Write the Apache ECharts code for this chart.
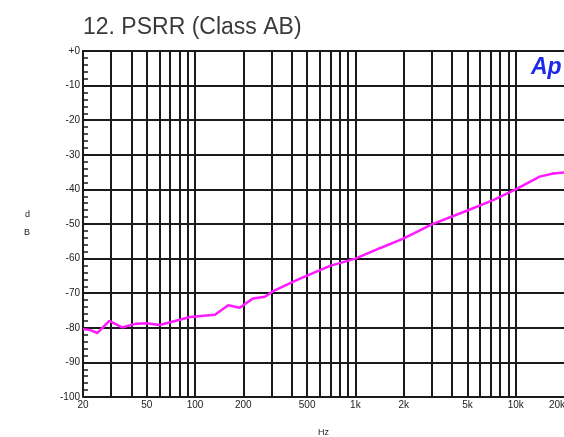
<!DOCTYPE html>
<html>
<head>
<meta charset="utf-8">
<script src="https://cdn.jsdelivr.net/npm/echarts@6/dist/echarts.min.js"></script>
<style>
  html, body { margin: 0; padding: 0; background: #fff; }
  #main { width: 564px; height: 437px; }
</style>
</head>
<body>
<div id="main"></div>
<script>
// PSRR curve
var freq = [20, 22, 24.6, 29.2, 35, 43, 50, 60, 71, 93, 133, 161, 190, 230, 273, 307, 430, 694, 1000, 1420, 1990, 3000, 5180, 7230, 10000, 14100, 17100, 20000];
var psrr = [-80.4, -80.6, -81.5, -78, -79.9, -78.8, -78.7, -79.2, -78.3, -76.9, -76.2, -73.5, -74.2, -71.5, -71.0, -69.4, -66.2, -62.1, -60.0, -57.0, -54.2, -50.1, -45.8, -43.1, -40.0, -36.3, -35.4, -35.1];

// vertical grid lines and the x labels
var gridFreqs = [30, 40, 50, 60, 70, 80, 90, 100, 200, 300, 400, 500, 600, 700, 800, 900, 1000,
  2000, 3000, 4000, 5000, 6000, 7000, 8000, 9000, 10000];
var labelFreqs = [20, 50, 100, 200, 500, 1000, 2000, 5000, 10000, 20000];
var labelTexts = ['20', '50', '100', '200', '500', '1k', '2k', '5k', '10k', '20k'];

var myChart = echarts.init(document.getElementById('main'), null, { renderer: 'canvas' });

var lineCol = '#1a1a1a';
var fontFam = 'Liberation Sans, Arial, sans-serif';
var marks = [];
gridFreqs.forEach(function (f) {
  marks.push({ xAxis: f, lineStyle: { color: lineCol, width: 2, type: 'solid' }, label: { show: false } });
});
labelFreqs.forEach(function (f, i) {
  var last = i === labelFreqs.length - 1;
  marks.push({
    xAxis: f,
    lineStyle: { color: 'rgba(0,0,0,0)', width: 0 },
    label: {
      show: true, position: 'start', formatter: labelTexts[i], distance: 3,
      padding: last ? [0, 14, 0, 0] : 0,
      color: '#222', fontSize: 10, fontFamily: fontFam
    }
  });
});

var option = {
  animation: false,
  title: {
    text: '12. PSRR (Class AB)',
    left: 78, top: 11,
    textStyle: { fontFamily: fontFam, fontSize: 23, fontWeight: 'normal', color: '#3a3a3a' }
  },
  grid: { left: 83, top: 51, right: 0, bottom: 40, outerBoundsMode: 'none' },
  xAxis: {
    type: 'log',
    logBase: 10,
    min: 20,
    max: 20000,
    name: 'Hz',
    nameLocation: 'middle',
    nameGap: 31,
    nameTextStyle: { fontSize: 9, color: '#222', fontFamily: fontFam },
    axisLine: { show: true, lineStyle: { color: lineCol, width: 2 } },
    axisTick: { show: false },
    axisLabel: { show: false },
    splitLine: { show: false }
  },
  yAxis: {
    type: 'value',
    min: -100,
    max: 0,
    interval: 10,
    name: 'd\nB',
    nameLocation: 'middle',
    nameRotate: 0,
    nameGap: 53,
    nameTextStyle: { fontSize: 9, color: '#222', lineHeight: 18, fontFamily: fontFam },
    axisLine: { show: true, lineStyle: { color: lineCol, width: 2 } },
    axisTick: { show: true, inside: true, length: 6, lineStyle: { color: lineCol, width: 2 } },
    minorTick: { show: true, splitNumber: 5, length: 5, lineStyle: { color: lineCol, width: 1.5 } },
    axisLabel: {
      margin: 3,
      fontSize: 10,
      color: '#222',
      fontFamily: fontFam,
      formatter: function (v) { return v === 0 ? '+0' : String(v); }
    },
    splitLine: { show: true, lineStyle: { color: lineCol, width: 2 } }
  },
  graphic: [{
    type: 'text',
    left: 531, top: 56,
    style: { text: 'Ap', fill: '#1b2be8', font: 'italic bold 23px Liberation Sans, Arial, sans-serif' }
  }],
  series: [{
    type: 'line',
    data: freq.map(function (f, i) { return [f, psrr[i]]; }),
    showSymbol: false,
    lineStyle: { color: '#ff1aff', width: 2.5 },
    z: 5,
    markLine: {
      silent: true,
      symbol: ['none', 'none'],
      data: marks,
      z: 1
    }
  }]
};

myChart.setOption(option);
window.addEventListener('resize', myChart.resize);
</script>
</body>
</html>
